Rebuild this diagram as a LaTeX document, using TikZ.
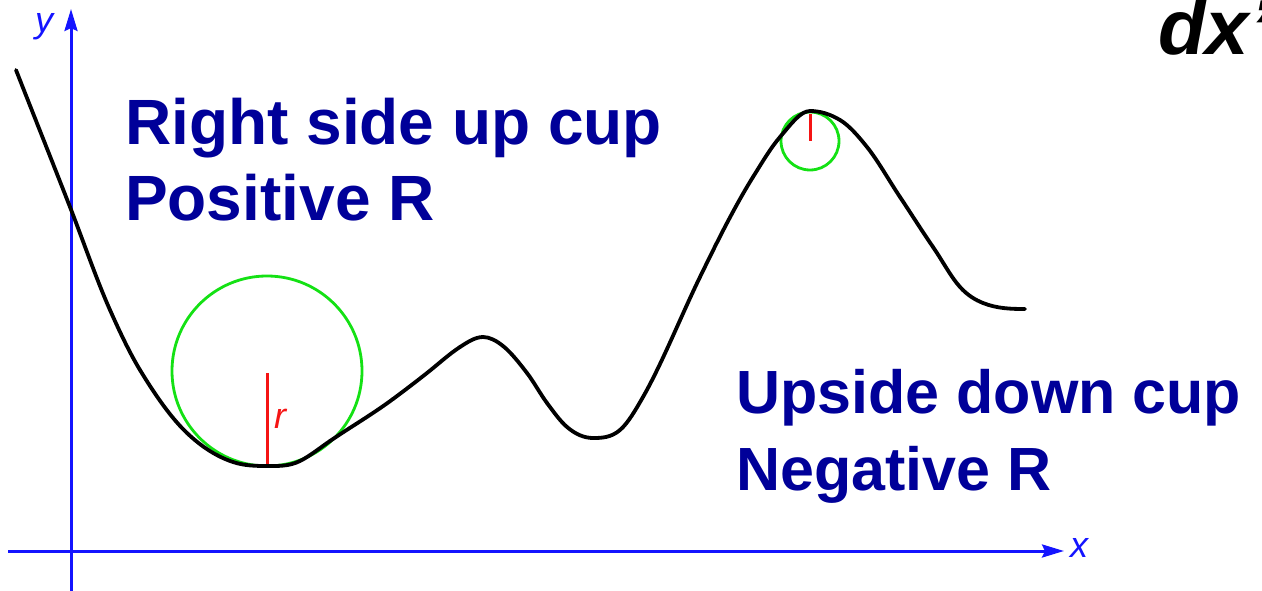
\documentclass[tikz,border=0pt]{standalone}
\usepackage{fontspec}
\setmainfont{Liberation Sans}
\usetikzlibrary{arrows.meta}
\definecolor{txtblue}{RGB}{0,0,153}
\definecolor{axblue}{RGB}{20,20,255}
\definecolor{cgreen}{RGB}{20,225,20}
\definecolor{cred}{RGB}{245,20,20}
\tikzset{
  axis/.style={axblue, line width=3pt, -{Stealth[length=22pt,width=13pt,inset=3pt]}},
  bigtext/.style={txtblue, font=\bfseries\fontsize{64}{76}\selectfont, anchor=base west, inner sep=0pt},
  bigtextr/.style={txtblue, font=\bfseries\fontsize{61}{76}\selectfont, anchor=base west, inner sep=0pt},
  axlabel/.style={axblue, font=\itshape\fontsize{36}{36}\selectfont, inner sep=0pt},
  curve/.style={black, line width=3.8pt, line cap=round, line join=round},
  osc/.style={cgreen, line width=2.8pt},
  rad/.style={cred, line width=3pt}
}
\begin{document}
\begin{tikzpicture}[x=1pt,y=-1pt]
\useasboundingbox (0,0) rectangle (1262,591);
% axes
\coordinate (xs) at (8,551);
\coordinate (xe) at (1064,551);
\coordinate (ys) at (71,591);
\coordinate (ye) at (71,9);
\draw[axis] (xs) -- (xe);
\draw[axis] (ys) -- (ye);
\node[axlabel, anchor=base] (ylab) at (44,33) {y};
\node[axlabel, anchor=base] (xlab) at (1079,557) {x};
% osculating circles
\coordinate (c1) at (267,371);
\coordinate (b1) at (267,465);
\draw[osc] (c1) circle[radius=95];
\draw[rad] (c1) ++(0,2) -- (b1);
\node[cred, font=\itshape\fontsize{36}{36}\selectfont, anchor=base west, inner sep=0pt] (rlab) at (274,428) {r};
\coordinate (c2) at (810,141);
\coordinate (b2) at (810,114);
\draw[osc] (c2) circle[radius=29];
\draw[rad] (c2) -- (b2);
% curve: cubic Hermite through knots x/y/slope (pixel units)
\foreach \x/\y/\s [remember=\x as \px (initially 16), remember=\y as \py (initially 70), remember=\s as \ps (initially 2.55), count=\i] in {
 16/70/2.55, 70/207/2.56, 110/310/2.25, 140/370/1.65, 187/433/0.95, 233/462/0.33, 267/466/0,
 300/461/-0.5, 330/441/-0.68, 393/399/-0.74, 427/373/-0.79, 460/347/-0.65, 483/337/0,
 503/346/0.8, 527/373/1.3, 547/403/1.35, 567/427/0.85, 593/438/0,
 620/430/-0.85, 643/397/-1.75, 700/277/-2.05, 727/223/-1.9, 753/177/-1.6, 780/137/-1.15, 810/111/0,
 840/120/0.6, 867/147/1.25, 900/197/1.5, 933/247/1.45, 960/287/1.1, 983/303/0.4, 1025/309/0}
{
  \ifnum\i>1
    \pgfmathsetmacro\h{(\x-\px)/3}
    \pgfmathsetmacro\ax{\px+\h}
    \pgfmathsetmacro\ay{\py+\ps*\h}
    \pgfmathsetmacro\bx{\x-\h}
    \pgfmathsetmacro\by{\y-\s*\h}
    \draw[curve] (\px,\py) .. controls (\ax,\ay) and (\bx,\by) .. (\x,\y);
  \fi
}
% texts
\node[bigtext] (t1a) at (125,145) {Right side up cup};
\node[bigtext] (t1b) at (125,221) {Positive R};
\node[bigtextr] (t2a) at (736,413) {Upside down cup};
\node[bigtextr] (t2b) at (736,490) {Negative R};
\node[black, font=\bfseries\itshape\fontsize{78}{78}\selectfont, anchor=base west, inner sep=0pt] (dx) at (1158,55) {dx'};
\end{tikzpicture}
\end{document}
